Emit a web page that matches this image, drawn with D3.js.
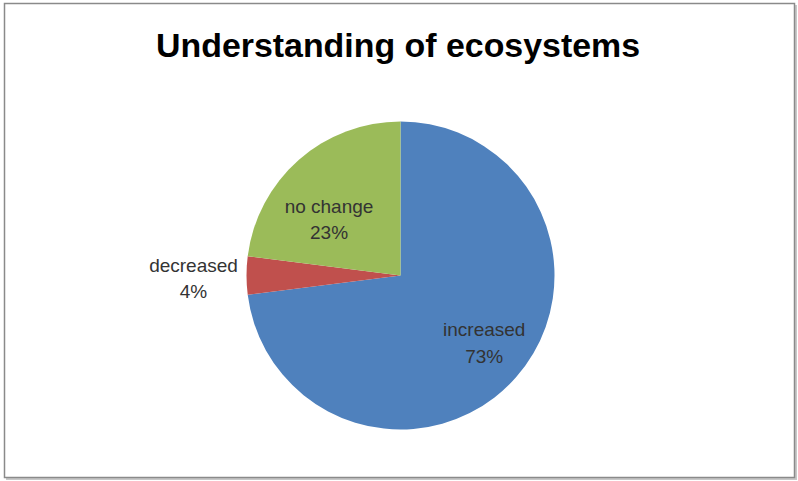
<!DOCTYPE html>
<html>
<head>
<meta charset="utf-8">
<script src="https://cdn.jsdelivr.net/npm/d3@7/dist/d3.min.js"></script>
<style>
  html, body { margin: 0; padding: 0; background: #fff; }
  svg { display: block; }
</style>
</head>
<body>
<svg id="chart" width="798" height="481"></svg>
<script>
// ---- Data ----
const title = "Understanding of ecosystems";
const categories = ["increased", "decreased", "no change"];
const values = [73, 4, 23];
const colors = ["#4F81BD", "#C0504D", "#9BBB59"];

// ---- Layout (not data) ----
const W = 798, H = 481;
const cx = 400.5, cy = 275.5, R = 154;
const labelLayout = [
  { r: 107.6, dx: 3, dy: -4 },
  { r: 207, dx: 0, dy: 2.8 },
  { r: 89.5, dx: -12.3, dy: 10.9 }
];

const svg = d3.select("#chart");

// frame with shadow
svg.append("rect").attr("x", 6).attr("y", 5).attr("width", 791).attr("height", 475)
  .attr("fill", "#c8c8c8");
svg.append("rect").attr("x", 4.5).attr("y", 3.5).attr("width", 790).attr("height", 474)
  .attr("fill", "#fff").attr("stroke", "#8a8a8a").attr("stroke-width", 1.5);

// title
svg.append("text")
  .attr("x", 398).attr("y", 57.3)
  .attr("text-anchor", "middle")
  .attr("font-family", "Liberation Sans, Arial, sans-serif")
  .attr("font-weight", "bold")
  .attr("font-size", 34)
  .attr("fill", "#000")
  .attr("textLength", 484)
  .attr("lengthAdjust", "spacingAndGlyphs")
  .text(title);

const total = d3.sum(values);
const pie = d3.pie().sort(null).value(d => d.value);
const data = pie(categories.map((c, i) => ({ cat: c, value: values[i], color: colors[i] })));
const arc = d3.arc().innerRadius(0).outerRadius(R);

const g = svg.append("g").attr("transform", `translate(${cx},${cy})`);
g.selectAll("path.slice").data(data).enter().append("path")
  .attr("class", "slice")
  .attr("d", arc)
  .attr("fill", d => d.data.color);

// labels
const labels = g.selectAll("text.lbl").data(data).enter().append("text")
  .attr("class", "lbl")
  .attr("text-anchor", "middle")
  .attr("font-family", "Liberation Sans, Arial, sans-serif")
  .attr("font-size", 19)
  .attr("fill", "#333")
  .each(function(d, i) {
    const L = labelLayout[i];
    const mid = (d.startAngle + d.endAngle) / 2;
    const x = L.r * Math.sin(mid) + L.dx;
    const y = -L.r * Math.cos(mid) + L.dy;
    const t = d3.select(this);
    t.append("tspan").attr("x", x).attr("y", y - 6.5).text(d.data.cat);
    t.append("tspan").attr("x", x).attr("y", y + 20).text(Math.round(d.data.value / total * 100) + "%");
  });
</script>
</body>
</html>
